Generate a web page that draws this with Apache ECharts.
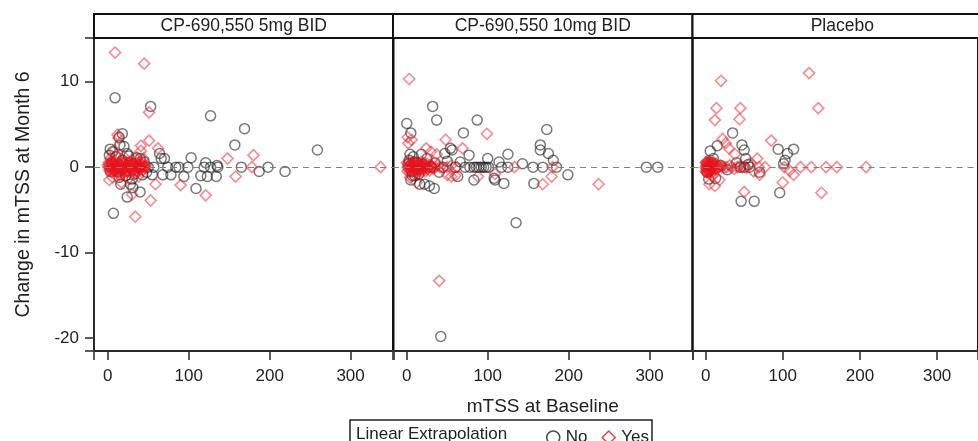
<!DOCTYPE html>
<html>
<head>
<meta charset="utf-8">
<script src="https://cdn.jsdelivr.net/npm/echarts@6/dist/echarts.min.js"></script>
<style>html,body{margin:0;padding:0;background:#fff}#c{width:978px;height:441px}</style>
</head>
<body>
<div id="c"></div>
<script>
// ---- data ----
const panelTitles = ['CP-690,550 5mg BID', 'CP-690,550 10mg BID', 'Placebo'];
const xTicks = [0, 100, 200, 300];
const yTicks = [-20, -10, 0, 10];
const xAxisTitle = 'mTSS at Baseline';
const yAxisTitle = 'Change in mTSS at Month 6';
const legendTitle = 'Linear Extrapolation';
const legendNames = ['No', 'Yes'];

// Panel 1: CP-690,550 5mg BID  [baseline, change]
const p1No = [
  [9,8.1],[53,7.1],[127,6.0],[169,4.5],[157,2.6],[259,2.0],[18,3.9],[14,3.5],[3,2.1],[15,2.6],[2,1.4],
  [24,1.6],[10,1.2],[64,1.6],[66,1.0],[103,1.1],[70,1.0],[121,0.5],[135,0.2],[136,0],[165,0],[198,0],
  [127,0],[119,0],[99,0],[88,0],[84,0],[74,0],[57,0],[219,-0.5],[187,-0.5],[134,-1.1],[123,-1.1],
  [115,-1.0],[94,-1.1],[78,-0.9],[68,-0.9],[55,-0.9],[43,-0.9],[109,-2.5],[40,-2.9],[24,-3.5],
  [28,-2.0],[7,-5.4],[5,0.5],[12,-0.5],[18,0.8],[22,-1.0],[26,1.3],[31,0.4],[33,-0.8],[36,1.1],
  [38,0],[45,0.6],[48,-0.6],[50,0],[14,-1.2],[20,2.4],[30,-1.4],[40,1.0],[16,-2.0],[31,-2.4],[6,1.8],[3,-0.5]
];
const p1Yes = [
  [9,13.4],[45,12.1],[51,6.4],[51,3.1],[62,2.2],[41,2.5],[41,1.9],[13,3.4],[12,3.8],[148,1.0],[180,1.4],
  [178,0],[158,-1.1],[121,-3.3],[90,-2.1],[59,-2.0],[53,-3.9],[34,-5.8],[2,-1.5],[337,0],[30,-3.2],
  [1,0],[2,0.3],[3,-0.2],[4,0.1],[5,0.4],[6,-0.3],[7,0],[8,0.2],[9,-0.4],[10,0],[11,0.3],[12,0.1],
  [13,-0.2],[14,0.5],[15,0],[16,-0.5],[17,0.2],[18,0],[19,-0.3],[20,0.4],[21,0],[22,-0.1],[23,0.3],
  [24,0],[25,-0.4],[26,0],[27,0.2],[28,-0.2],[29,0],[30,0.4],[31,0],[32,-0.3],[33,0],[34,0.2],[35,0],
  [36,-0.4],[37,0],[38,0.3],[39,0],[40,-0.2],[41,0],[42,0.3],[43,0],[44,-0.3],[46,0],[47,0.2],
  [1,0.5],[2,-0.4],[4,0.6],[5,-0.6],[7,0.5],[8,-0.5],[10,0.6],[11,-0.5],[13,0.4],[14,-0.6],[16,0.6],
  [18,-0.5],[19,0.5],[21,-0.6],[22,0.6],[24,-0.5],[25,0.5],[27,-0.6],[28,0.6],[30,-0.5],[32,0.5],
  [34,-0.6],[35,0.5],[37,-0.5],[39,0.6],[40,0.2],[42,-0.5],[43,0.5],[45,0],[0,0.2],[3,0],[6,0.1],
  [3,1.0],[6,-1.2],[11,1.4],[15,-1.0],[20,1.2],[26,-1.3],[33,1.1],[8,2.0],[17,-1.8],[38,-1.1],[44,1.0]
];

// Panel 2: CP-690,550 10mg BID
const p2No = [
  [0,5.1],[32,7.1],[37,5.5],[87,5.5],[70,4.0],[173,4.4],[5,4.0],[54,2.2],[165,2.6],[165,2.0],[175,1.6],
  [125,1.5],[56,2.0],[47,1.6],[77,1.4],[100,1.0],[114,0.6],[143,0.4],[156,0],[168,0],[181,0.8],[185,0],
  [125,0],[83,0],[89,0],[95,0],[101,0],[117,0],[199,-0.9],[157,-1.9],[120,-1.9],[109,-1.5],[83,-1.5],
  [108,-1.3],[63,-1.1],[34,-2.5],[28,-2.2],[22,-2.0],[16,-2.0],[5,-1.5],[296,0],[310,0],[135,-6.5],
  [42,-19.8],[3,0.8],[8,1.2],[12,0.5],[15,-0.8],[20,0.3],[25,1.0],[10,-1.0],[30,0],[18,1.5],[35,0.5],
  [40,-0.6],[45,0],[50,0.7],[60,0],[66,0.6],[72,0],[78,0],[86,0],[92,0],[98,0],
  [2,0.4],[6,-0.5],[9,0.6],[13,-0.3],[4,1.5],[7,-1.0]
];
const p2Yes = [
  [3,10.3],[99,3.9],[1,3.5],[6,3.2],[2,2.8],[48,3.2],[69,2.2],[24,2.2],[30,1.8],[37,1.5],[55,-1.1],
  [88,-1.1],[180,0],[237,-2.0],[168,-2.0],[179,-1.1],[133,0],[109,-0.8],[40,-13.3],[50,-0.9],[60,-1.0],
  [4,-1.2],[12,-1.8],
  [1,0],[2,0.2],[3,-0.3],[4,0],[5,0.3],[6,0],[7,-0.2],[8,0.1],[9,0],[10,0.3],[11,-0.3],[12,0],[13,0.2],
  [14,0],[15,-0.2],[16,0.3],[17,0],[18,-0.1],[19,0.2],[20,0],[21,-0.3],[22,0],[23,0.2],[24,0],[26,-0.2],
  [27,0],[29,0.3],[31,0],[33,-0.2],[35,0],[38,0.2],[41,0],[45,-0.1],[50,0],[55,0.2],[62,0],
  [0,0.5],[1,-0.5],[3,0.6],[4,-0.6],[5,0],[6,0.5],[7,-0.5],[9,0.6],[10,-0.5],[12,0.5],[13,-0.6],
  [15,0.5],[16,-0.5],[18,0.6],[19,-0.5],[21,0.5],[23,-0.5],[25,0.4],[28,-0.4],[30,0.2],[32,0],[2,0],[8,0]
];

// Panel 3: Placebo
const p3No = [
  [35,4.0],[15,2.5],[6,1.9],[47,2.6],[50,2.0],[52,1.0],[94,2.1],[106,1.6],[114,2.1],[103,0.8],[101,0.4],
  [96,-3.0],[46,-4.0],[63,-4.0],[70,-0.6],[13,-1.3],[2,-0.6],[45,0],[50,0],[55,0.3],[57,0],[40,0.5],
  [8,0.5],[20,0.2],[28,-0.3],[10,1.0],[4,-1.4]
];
const p3Yes = [
  [20,10.1],[134,11.0],[146,6.9],[14,6.9],[45,6.9],[12,5.5],[44,5.6],[85,3.1],[123,0],[137,0],[156,0],
  [170,0],[208,0],[77,0],[102,0],[109,-0.4],[114,-0.9],[100,-1.8],[150,-3.0],[50,-2.9],[67,1.0],[69,0],
  [70,-0.9],[22,3.3],[30,2.2],[26,2.8],[8,-1.0],[12,-2.2],[18,-1.5],[5,-2.0],[38,1.5],[58,0.5],[62,-0.5],
  [0,0],[1,0.2],[1,-0.2],[2,0],[2,0.4],[3,-0.3],[3,0.1],[4,0],[4,-0.4],[5,0.2],[5,0],[6,-0.1],[7,0.3],
  [8,0],[9,-0.2],[10,0],[11,0.3],[13,0],[15,-0.2],[17,0],[19,0.2],[21,0],[24,-0.1],[27,0],[31,0.2],
  [34,0],[37,-0.2],[41,0],[44,0.1],[48,0],[53,-0.1],
  [0,0.5],[0,-0.5],[1,0.6],[1,-0.6],[2,0.5],[2,-0.5],[3,0.7],[3,-0.6],[4,0.5],[5,-0.5],[6,0.6],
  [6,-0.6],[7,0],[8,0.5],[9,0.3],[9,-0.6],[10,0.6],[12,-0.3],[14,0.4],[16,0]
];

const panelData = [[p1No, p1Yes], [p2No, p2Yes], [p3No, p3Yes]];

// ---- chart ----
const FONT = 'Liberation Sans, Arial, sans-serif';
const gridLeft = [94, 393, 692.5];
const gridW = 299.5;
const gridTop = 38, gridH = 313;

const grids = [], xAxes = [], yAxes = [], series = [], graphics = [];
gridLeft.forEach((l, i) => {
  grids.push({left: l, top: gridTop, width: gridW, height: gridH, show: true,
    borderColor: '#111', borderWidth: 2, backgroundColor: 'transparent', containLabel: false});
  xAxes.push({type: 'value', gridIndex: i, min: -17, max: 353, position: 'bottom', splitNumber: 4,
    axisLine: {show: true, onZero: false, lineStyle: {color: '#333', width: 1.5}},
    splitLine: {show: false},
    axisTick: {show: true, inside: false, length: 9, lineStyle: {color: '#333', width: 1.6}},
    axisLabel: {show: true, customValues: xTicks, fontSize: 17, color: '#222', fontFamily: FONT, margin: 17},
    name: i === 1 ? xAxisTitle : '', nameLocation: 'middle', nameGap: 46,
    nameTextStyle: {fontSize: 19, color: '#222', fontFamily: FONT}});
  yAxes.push({type: 'value', gridIndex: i, min: -21.5, max: 15.1, show: i === 0, position: 'left', splitNumber: 4,
    axisLine: {show: true, onZero: false, lineStyle: {color: '#333', width: 1.5}},
    splitLine: {show: false},
    axisTick: {show: true, inside: false, length: 9, lineStyle: {color: '#333', width: 1.6}},
    axisLabel: {show: true, customValues: yTicks, fontSize: 17, color: '#222', fontFamily: FONT, margin: 15},
    name: i === 0 ? yAxisTitle : '', nameLocation: 'middle', nameRotate: 90, nameGap: 60,
    nameTextStyle: {fontSize: 19.5, color: '#222', fontFamily: FONT}});
  series.push({type: 'scatter', name: 'No', xAxisIndex: i, yAxisIndex: i, data: panelData[i][0],
    symbol: 'circle', symbolSize: 10,
    itemStyle: {color: 'rgba(0,0,0,0)', borderColor: 'rgba(25,25,25,0.72)', borderWidth: 1.5},
    emphasis: {disabled: true},
    markLine: {silent: true, symbol: 'none', label: {show: false},
      lineStyle: {type: [6, 5], color: '#808080', width: 1.2}, emphasis: {disabled: true},
      data: [{yAxis: 0}]},
    z: 2});
  series.push({type: 'scatter', name: 'Yes', xAxisIndex: i, yAxisIndex: i, data: panelData[i][1],
    symbol: 'diamond', symbolSize: 11,
    itemStyle: {color: 'rgba(0,0,0,0)', borderColor: 'rgba(235,20,30,0.62)', borderWidth: 1.6},
    emphasis: {disabled: true}, z: 3});
  // panel header strip
  graphics.push({type: 'rect', shape: {x: l, y: 14, width: gridW, height: 24},
    style: {fill: '#fff', stroke: '#111', lineWidth: 2}, z: 10});
  graphics.push({type: 'text', x: l + gridW / 2, y: 26,
    style: {text: panelTitles[i], fontSize: 17.5, fontFamily: FONT, fill: '#222', align: 'center', verticalAlign: 'middle'}, z: 11});
});

// legend frame + title
graphics.push({type: 'rect', shape: {x: 350, y: 420, width: 302, height: 40},
  style: {fill: 'transparent', stroke: '#222', lineWidth: 1.5}, z: 10});
graphics.push({type: 'text', x: 356, y: 434,
  style: {text: legendTitle, fontSize: 17, fontFamily: FONT, fill: '#222', align: 'left', verticalAlign: 'middle'}, z: 11});

const chart = echarts.init(document.getElementById('c'), null, {renderer: 'canvas'});
chart.setOption({
  animation: false,
  backgroundColor: '#fff',
  grid: grids, xAxis: xAxes, yAxis: yAxes, series: series,
  legend: {show: true, left: 541, top: 424, orient: 'horizontal', itemWidth: 13, itemHeight: 13, itemGap: 14,
    selectedMode: false,
    textStyle: {fontSize: 17, color: '#222', fontFamily: FONT, padding: [0, 0, 0, 1]},
    data: [
      {name: 'No', icon: 'circle', itemStyle: {color: 'rgba(0,0,0,0)', borderColor: '#222', borderWidth: 1.5}},
      {name: 'Yes', icon: 'diamond', itemStyle: {color: 'rgba(0,0,0,0)', borderColor: '#e8141e', borderWidth: 1.5}}
    ]},
  graphic: graphics
});
</script>
</body>
</html>
